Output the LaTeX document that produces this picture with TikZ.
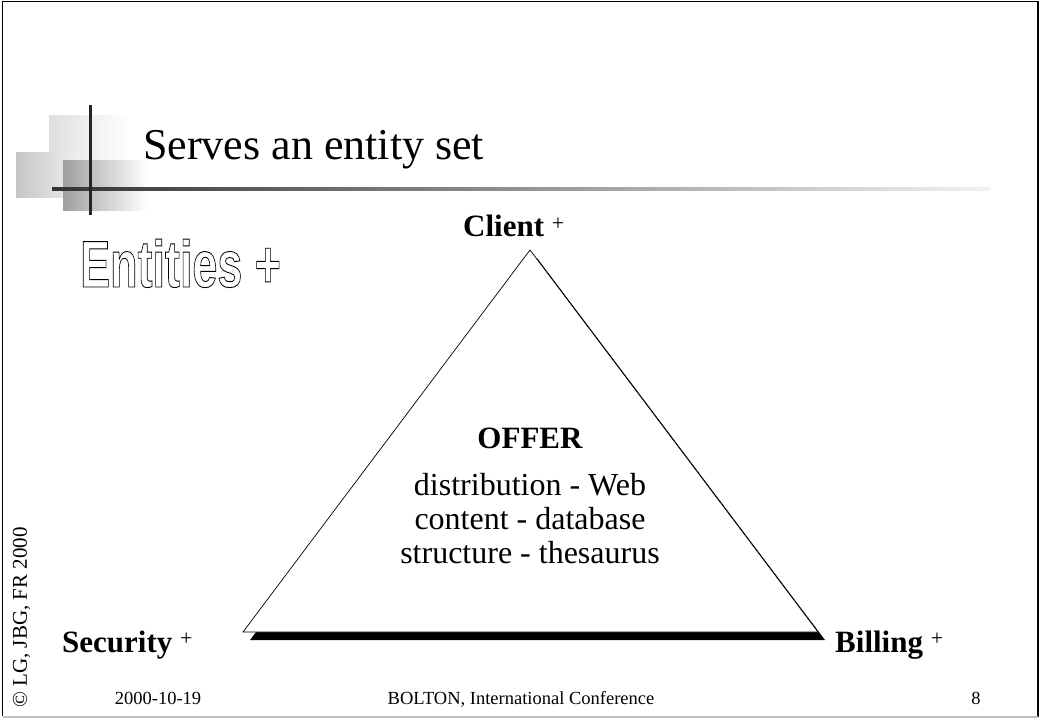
\documentclass[tikz,border=0pt]{standalone}
\usepackage{fontspec}
\setmainfont{Liberation Serif}
\newfontfamily\entfont{Liberation Sans}

\tikzset{
  vertex/.style={font=\fontsize{31}{31}\selectfont\bfseries, anchor=base west, inner sep=0pt},
  body/.style={font=\fontsize{32}{34}\selectfont, anchor=base, inner sep=0pt},
  footer/.style={font=\fontsize{18.5}{18.5}\selectfont, anchor=base, inner sep=0pt},
}
\newcommand{\plussup}{{\fontsize{22}{22}\selectfont\mdseries\raisebox{6.5pt}{+}}}
\newcommand{\outlined}[1]{\special{pdf:literal direct 1 Tr 0.9 w}#1\special{pdf:literal direct 0 Tr}}

\begin{document}
\begin{tikzpicture}[x=1pt,y=-1pt]
    \useasboundingbox (0,0) rectangle (1042,719);
    % frame
    \draw[line width=1.2pt] (2.5,716) -- (2.5,1.5) -- (1038,1.5);
    \draw[line width=2.5pt] (1038,1.5) -- (1038,717);
    \draw[gray!50, line width=1.2pt] (2.5,717) -- (1038,717);

    % title decoration
    \shade[left color=gray!25, right color=white] (49,116) rectangle (130,197);
    \shade[left color=gray!45, right color=gray!12] (16,153) rectangle (80,198);
    \shade[left color=gray!75, right color=white] (63,161) rectangle (147,211);
    \shade[left color=black!80, right color=gray!10] (52,187.5) rectangle (990,190.5);
    \fill[black!85] (88.5,105) rectangle (91.5,215);

    \node[anchor=base west, inner sep=0pt, font=\fontsize{44}{44}\selectfont] (title) at (143,160) {Serves an entity set};
    \node[anchor=base west, inner sep=0pt] (entities) at (80,287)
        {\entfont\bfseries\fontsize{66}{66}\selectfont\scalebox{0.68}[1]{\outlined{Entities +}}};

    % triangle
    \coordinate (top) at (530,250);
    \coordinate (left) at (243,632);
    \coordinate (right) at (818,632);
    \fill[black] ([shift={(7,8)}]top) -- ([shift={(7,8)}]left) -- ([shift={(7,8)}]right) -- cycle;
    \draw[fill=white, line width=0.7pt] (top) -- (left) -- (right) -- cycle;

    \node[vertex] (client) at (463,237) {Client \plussup};
    \node[vertex] (security) at (62,652) {Security \plussup};
    \node[vertex] (billing) at (835,652) {Billing \plussup};

    \node[anchor=base, inner sep=0pt, font=\fontsize{31}{31}\selectfont\bfseries] (offer) at (530,448) {OFFER};
    \foreach \txt [count=\i] in {distribution - Web, content - database, structure - thesaurus}
        \node[body] (line\i) at (530,461+34*\i) {\txt};

    % footer
    \node[footer] (date) at (158,704) {2000-10-19};
    \node[footer] (conf) at (521,704) {BOLTON, International Conference};
    \node[footer] (page) at (976,704) {8};
    \node[rotate=90, anchor=base west, inner sep=0pt, font=\fontsize{21}{21}\selectfont] (copyright) at (27,708) {\textcopyright{} LG, JBG, FR 2000};
\end{tikzpicture}
\end{document}
